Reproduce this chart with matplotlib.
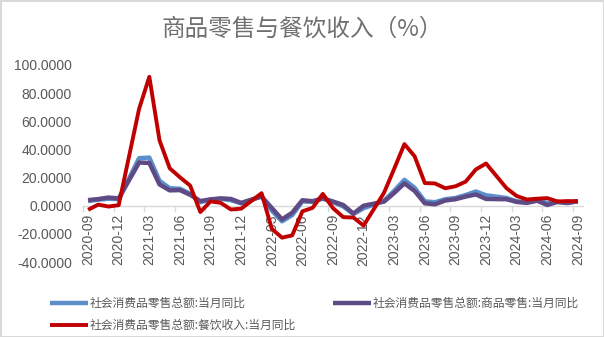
import numpy as np
import matplotlib
matplotlib.use("Agg")
import matplotlib.pyplot as plt

months = ["2020-09","2020-10","2020-11","2020-12",
          "2021-01","2021-02","2021-03","2021-04","2021-05","2021-06","2021-07","2021-08","2021-09","2021-10","2021-11","2021-12",
          "2022-01","2022-02","2022-03","2022-04","2022-05","2022-06","2022-07","2022-08","2022-09","2022-10","2022-11","2022-12",
          "2023-01","2023-02","2023-03","2023-04","2023-05","2023-06","2023-07","2023-08","2023-09","2023-10","2023-11","2023-12",
          "2024-01","2024-02","2024-03","2024-04","2024-05","2024-06","2024-07","2024-08","2024-09"]
nan = np.nan
total = [3.3, 4.3, 5.0, 4.6,
         nan, 33.8, 34.2, 17.7, 12.4, 12.1, 8.5, 2.5, 4.4, 4.9, 3.9, 1.7,
         nan, 6.7, -3.5, -11.1, -6.7, 3.1, 2.7, 5.4, 2.5, -0.5, -5.9, -1.8,
         nan, 3.5, 10.6, 18.4, 12.7, 3.1, 2.5, 4.6, 5.5, 7.6, 10.1, 7.4,
         nan, 5.5, 3.1, 2.3, 3.7, 2.0, 2.7, 2.1, 3.2]
goods = [4.0, 4.7, 5.8, 5.2,
         nan, 30.7, 30.4, 15.1, 10.9, 11.1, 7.8, 3.3, 4.5, 5.2, 4.8, 2.0,
         nan, 6.5, -1.6, -9.7, -5.0, 3.9, 3.2, 5.1, 3.0, 0.5, -5.6, 0.0,
         nan, 2.9, 9.1, 15.9, 10.5, 1.7, 1.0, 3.7, 4.6, 6.5, 8.0, 4.8,
         nan, 4.6, 2.7, 2.0, 3.6, 0.5, 2.7, 1.9, 3.3]
catering = [-2.9, 0.8, -0.6, 0.4,
            nan, 68.9, 91.6, 46.4, 26.6, 20.2, 14.3, -4.5, 3.1, 2.0, -2.7, -2.1,
            nan, 8.9, -16.4, -22.7, -21.1, -4.0, -1.5, 8.4, -1.7, -8.1, -8.4, -14.1,
            nan, 9.2, 26.3, 43.8, 35.1, 16.1, 15.8, 12.4, 13.8, 17.1, 25.8, 30.0,
            nan, 12.5, 6.9, 4.4, 5.0, 5.4, 3.0, 3.3, 3.1]

labels = ["社会消费品零售总额:当月同比", "社会消费品零售总额:商品零售:当月同比", "社会消费品零售总额:餐饮收入:当月同比"]
colors = ["#5B8FCC", "#5E4A85", "#C00000"]
title = "商品零售与餐饮收入（%）"

plt.rcParams['font.family'] = ['Noto Sans CJK SC', 'DejaVu Sans']

fig = plt.figure(figsize=(6.04, 3.37), dpi=100)
fig.patch.set_facecolor('white')
fig.patch.set_edgecolor('#D9D9D9')
fig.patch.set_linewidth(2)

ax = fig.add_axes([83/604, 1-262/337, 500/604, 197/337])
x = np.arange(len(months))
handles = []
for series, lab, c, lw in zip([total, goods, catering], labels, colors, [3.2, 3.2, 2.8]):
    arr = np.array(series, dtype=float)
    m = ~np.isnan(arr)
    h, = ax.plot(x[m], arr[m], color=c, lw=lw, solid_joinstyle='round', solid_capstyle='butt', zorder=3)
    handles.append(h)

ax.set_xlim(-0.5, len(months) - 0.5)
ax.set_ylim(-40, 100)
ax.set_yticks(np.arange(-40, 101, 20))
ax.yaxis.set_major_formatter(matplotlib.ticker.FormatStrFormatter('%.4f'))
for s in ['top', 'right', 'left']:
    ax.spines[s].set_visible(False)
ax.spines['bottom'].set_position(('data', 0))
ax.spines['bottom'].set_color('#D9D9D9')
ax.spines['bottom'].set_linewidth(1)

tick_idx = x[::3]
ax.set_xticks(tick_idx)
ax.set_xticklabels([months[i] for i in tick_idx], rotation=90, family=['Liberation Sans'], fontsize=10, color='#595959')
ax.tick_params(axis='x', which='major', length=0, pad=6)
ax.set_xticks(tick_idx - 0.5, minor=True)
ax.tick_params(axis='x', which='minor', length=4, color='#D9D9D9', width=1)
ax.tick_params(axis='y', length=0, pad=8)
for t in ax.get_yticklabels():
    t.set_family(['Liberation Sans'])
    t.set_fontsize(10)
    t.set_color('#595959')

fig.text(0.5, 1-29/337, title, ha='center', va='center', fontsize=17, color='#707070')

fig.legend(handles[:1] + handles[2:] + handles[1:2],
           [labels[0], labels[2], labels[1]],
           loc='upper left', bbox_to_anchor=(44/604, 1-291/337), ncol=2,
           frameon=False, fontsize=8.5, labelcolor='#595959',
           handlelength=3.2, handletextpad=0.2, columnspacing=3.1, labelspacing=0.75, borderpad=0)

fig.savefig('out.png', dpi=100, facecolor=fig.get_facecolor(), edgecolor=fig.get_edgecolor())
